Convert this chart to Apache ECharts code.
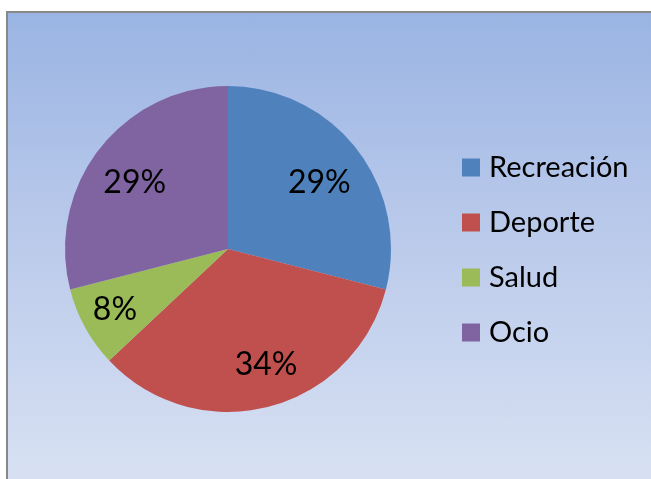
<!DOCTYPE html>
<html>
<head>
<meta charset="utf-8">
<script src="https://cdn.jsdelivr.net/npm/echarts@6/dist/echarts.min.js"></script>
<style>
  html, body { margin: 0; padding: 0; background: #ffffff; }
  #bg { position: absolute; left: 6px; top: 11px; width: 700px; height: 520px;
        border-left: 2px solid #888888; border-top: 2px solid #888888;
        background: linear-gradient(to bottom, #9ab4e3 0%, #bccbeb 45%, #dee6f5 100%); }
  #chart { position: absolute; left: 0; top: 0; width: 651px; height: 479px; }
</style>
</head>
<body>
<div id="bg"></div>
<div id="chart"></div>
<script>
const categories = ['Recreación', 'Deporte', 'Salud', 'Ocio'];
const values = [29, 34, 8, 29];
const colors = ['#4f81bd', '#c0504d', '#9bbb59', '#8064a2'];

const chart = echarts.init(document.getElementById('chart'), null, { renderer: 'canvas' });
const data = categories.map((c, i) => ({ name: c, value: values[i], itemStyle: { color: colors[i] } }));
const labelOffsets = [[2, 3], [10, 6], [-14, 6], [-4, 3]];

chart.setOption({
  backgroundColor: 'transparent',
  animation: false,
  legend: {
    orient: 'vertical',
    left: 457,
    top: 148,
    itemWidth: 18,
    itemHeight: 18,
    itemGap: 26,
    icon: 'rect',
    data: categories,
    textStyle: { fontFamily: 'Lato', fontSize: 29, color: '#000000', padding: [0, 0, 0, 4] }
  },
  series: [
    {
      type: 'pie',
      center: [228, 249],
      radius: [0, 163],
      startAngle: 90,
      clockwise: true,
      silent: true,
      label: { show: false },
      labelLine: { show: false },
      itemStyle: { borderWidth: 0 },
      data: data
    },
    {
      type: 'pie',
      center: [228, 249],
      radius: [57, 163],
      startAngle: 90,
      clockwise: true,
      silent: true,
      itemStyle: { color: 'rgba(0,0,0,0)', borderWidth: 0 },
      label: {
        show: true,
        position: 'inside',
        formatter: '{d}%',
        fontFamily: 'Lato',
        fontSize: 32,
        color: '#000000'
      },
      labelLine: { show: false },
      data: categories.map((c, i) => ({
        name: c, value: values[i],
        itemStyle: { color: 'rgba(0,0,0,0)' },
        label: { offset: labelOffsets[i] }
      }))
    }
  ]
});
</script>
</body>
</html>
